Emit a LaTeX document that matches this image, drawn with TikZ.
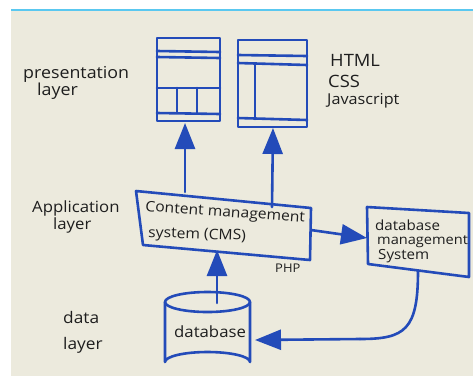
\documentclass[tikz,border=0pt]{standalone}
\usepackage{fontspec}
\newfontfamily\hand[FakeStretch=1.08]{Open Sans}
\usetikzlibrary{arrows.meta}
\definecolor{board}{RGB}{236,234,221}
\definecolor{marker}{RGB}{35,75,185}
\definecolor{ink}{RGB}{30,30,30}
\definecolor{edge}{RGB}{90,200,240}
\tikzset{
  pen/.style={draw=marker, line width=2.6pt, line join=round, line cap=round},
  arr/.style={pen, -{Triangle[length=26pt,width=20pt]}},
  lbl/.style={anchor=base west, inner sep=0pt, text=ink, font=\hand\fontsize{15}{15}\selectfont},
  win/.style={pen, rectangle, inner sep=0pt},
}
\begin{document}
\begin{tikzpicture}[x=1pt,y=-1pt]
\useasboundingbox (0,0) rectangle (473,376);
\fill[white] (0,0) rectangle (473,376);
\fill[board] (11,10) rectangle (473,376);
\draw[edge, line width=1.2pt] (11,10) -- (473,10);

% presentation layer: two page sketches
\node[win, minimum width=63pt, minimum height=83pt] (w1) at (188.5,79.5) {};
\draw[pen] (157,51) -- (220,52);
\draw[pen] (157,57) -- (220,58);
\draw[pen] (157,88) -- (220,88);
\draw[pen] (177,88) -- (177,113);
\draw[pen] (197,88) -- (197,113);
\draw[pen] (157,113) -- (220,114);

\node[win, minimum width=69pt, minimum height=87pt] (w2) at (272.5,83.5) {};
\draw[pen] (238,55) -- (307,56);
\draw[pen] (238,63) -- (307,65);
\draw[pen] (255,64) -- (255,119);
\draw[pen] (238,118) -- (307,120);

% labels
\node[lbl, font=\hand\fontsize{16.5}{16.5}\selectfont] (pres) at (23,78) {presentation};
\node[lbl, font=\hand\fontsize{16.5}{16.5}\selectfont] (pres2) at (37,95) {layer};
\node[lbl, font=\hand\fontsize{17}{17}\selectfont] (html) at (330,66) {HTML};
\node[lbl, font=\hand\fontsize{17}{17}\selectfont] (css) at (328,87) {CSS};
\node[lbl] (js) at (327,104) {Javascript};

\node[lbl, font=\hand\fontsize{15.5}{15.5}\selectfont] (app) at (32,212) {Application};
\node[lbl, font=\hand\fontsize{15.5}{15.5}\selectfont] (app2) at (53,229) {layer};
\node[lbl, font=\hand\fontsize{16}{16}\selectfont] (data) at (63,323) {data};
\node[lbl, font=\hand\fontsize{16}{16}\selectfont] (data2) at (63,349) {layer};

% CMS box
\coordinate (cmsTL) at (136,191);
\coordinate (cmsTR) at (311,208);
\coordinate (cmsBR) at (310,260);
\coordinate (cmsBL) at (143,245);
\draw[pen] (cmsTL) -- (cmsTR) -- (cmsBR) -- (cmsBL) -- cycle;
\node[lbl, rotate=-4, font=\hand\fontsize{14.5}{14.5}\selectfont] (cms1) at (145,211) {Content management};
\node[lbl, rotate=-2, font=\hand\fontsize{14.5}{14.5}\selectfont] (cms2) at (148,237) {system (CMS)};
\node[lbl, font=\hand\fontsize{12}{12}\selectfont] (php) at (275,272) {PHP};

% DBMS box
\coordinate (dbTL) at (367,207);
\coordinate (dbTR) at (469,213);
\coordinate (dbBR) at (469,277);
\coordinate (dbBL) at (368,264);
\draw[pen] (dbTL) -- (dbTR) -- (dbBR) -- (dbBL) -- cycle;
\node[lbl, font=\hand\fontsize{14}{14}\selectfont] (dbms1) at (375,230) {database};
\node[lbl, font=\hand\fontsize{13.5}{13.5}\selectfont] (dbms2) at (377,244) {management};
\node[lbl, font=\hand\fontsize{14}{14}\selectfont] (dbms3) at (378,259) {System};

% database cylinder
\draw[pen] (165,302) -- (165,362) arc[start angle=180, end angle=360, x radius=42.5pt, y radius=-10pt] -- (250,302);
\draw[pen] (207.5,302) ellipse[x radius=42.5pt, y radius=10pt];
\node[lbl, font=\hand\fontsize{15.5}{15.5}\selectfont] (db) at (174,337) {database};

% connectors
\coordinate (a1s) at (185,192);
\coordinate (a1e) at (185,123);
\draw[arr] (a1s) -- (a1e);
\coordinate (a2s) at (272,207);
\coordinate (a2e) at (273,128);
\draw[arr] (a2s) -- (a2e);
\coordinate (a3s) at (311,230);
\coordinate (a3e) at (367,238);
\draw[arr] (a3s) -- (a3e);
\coordinate (a4s) at (217,303);
\coordinate (a4e) at (217,250);
\draw[arr] (a4s) -- (a4e);
\coordinate (a5s) at (418,271);
\coordinate (a5e) at (255,340);
\draw[pen] (a5s) .. controls (418,330) and (405,339) .. (360,339);
\draw[arr] (360,339) -- (a5e);
\end{tikzpicture}
\end{document}
